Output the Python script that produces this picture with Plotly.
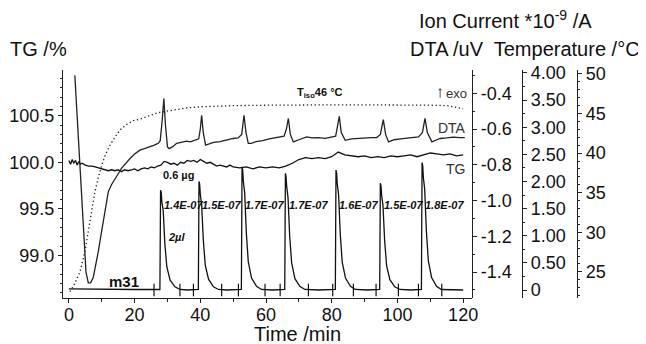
import plotly.graph_objects as go

# ---------------- data ----------------
tg_t = [0, 0.5, 1, 1.5, 2, 2.5, 3, 3.5, 4, 5, 6, 7, 8, 9, 10, 11, 12, 13, 14, 15,
        16, 17, 18, 19, 20, 21, 22, 23, 24, 25, 26, 27, 28, 29, 30, 31, 32, 33, 34, 35,
        36, 37, 38, 39, 40, 41, 42, 43, 44, 45, 46, 47, 48, 49, 50, 52, 54, 56, 58, 60,
        62, 64, 66, 68, 70, 72, 74, 76, 78, 80, 82, 84, 86, 88, 90, 92, 94, 96, 98, 100,
        102, 104, 106, 108, 110, 112, 114, 116, 118, 120]
tg_v = [100.02, 99.98, 100.03, 99.99, 100.02, 99.97, 100.01, 99.98, 99.99, 99.97,
        99.96, 99.96, 99.95, 99.94, 99.93, 99.92, 99.91, 99.92, 99.91, 99.92,
        99.90, 99.92, 99.91, 99.92, 99.93, 99.91, 99.93, 99.94, 99.93, 99.95,
        99.94, 99.96, 99.97, 100.01, 100.00, 99.98, 99.99, 99.97, 100.00, 99.99,
        100.02, 100.01, 100.02, 100.00, 100.03, 100.01, 99.99, 100.00, 99.98, 99.96,
        99.97, 99.96, 99.95, 99.97, 99.95, 99.94, 99.95, 99.93, 99.95, 99.94,
        99.95, 99.94, 99.96, 99.99, 100.03, 100.05, 100.04, 100.05, 100.04, 100.06,
        100.11, 100.08, 100.07, 100.06, 100.07, 100.05, 100.06, 100.05, 100.07, 100.06,
        100.07, 100.08, 100.06, 100.08, 100.10, 100.09, 100.08, 100.09, 100.07, 100.08]

dta_t = [1.8, 2.6, 3.35, 4.4, 5.2, 5.9, 6.6, 7.4, 8.2, 8.9, 9.7, 10.5, 11.2, 12.0, 13.0,
         14.0, 15.0, 16.0, 17.3, 18.6, 20.0, 21.6, 23.0, 24.7, 26.0, 27.2, 27.8, 28.4,
         28.9, 29.4, 30.0, 30.5, 31.5, 32.8, 34.0, 35.8, 37.0, 38.5, 39.5, 40.0, 40.4,
         40.9, 41.6, 42.5, 44, 46, 48, 50, 51.5, 52.6, 53.3, 53.9, 54.6, 55.5, 57, 59,
         61, 63, 64.3, 65.5, 66.2, 66.8, 67.4, 68.3, 70, 72.4, 74, 76, 78, 80, 81.2,
         81.8, 82.3, 82.9, 84.1, 86, 88, 90, 92, 93.7, 94.8, 95.7, 96.4, 97.3, 99, 101,
         103, 105, 106.4, 107.6, 108.4, 109.1, 110.5, 112, 113, 115, 117, 119, 120.5]
dta_v = [-0.30, -0.55, -0.80, -1.17, -1.40, -1.46, -1.46, -1.43, -1.36, -1.29, -1.20,
         -1.12, -1.03, -0.95, -0.91, -0.877, -0.85, -0.82, -0.79, -0.765, -0.74, -0.718,
         -0.71, -0.70, -0.69, -0.68, -0.665, -0.55, -0.43, -0.58, -0.70, -0.71, -0.70,
         -0.68, -0.675, -0.668, -0.672, -0.66, -0.655, -0.60, -0.523, -0.62, -0.69,
         -0.685, -0.675, -0.67, -0.66, -0.653, -0.65, -0.63, -0.523, -0.62, -0.68, -0.68,
         -0.67, -0.665, -0.655, -0.65, -0.644, -0.64, -0.60, -0.541, -0.63, -0.672, -0.66,
         -0.644, -0.65, -0.648, -0.652, -0.646, -0.64, -0.58, -0.529, -0.62, -0.663,
         -0.655, -0.652, -0.65, -0.648, -0.648, -0.63, -0.547, -0.63, -0.672, -0.66,
         -0.655, -0.65, -0.648, -0.644, -0.62, -0.541, -0.62, -0.672, -0.66, -0.653,
         -0.65, -0.645, -0.648, -0.648]

temp_t = [0.3, 1.5, 2.5, 3.35, 4.1, 4.9, 5.6, 6.4, 7.1, 7.9, 9.0, 10.0, 11.2, 12.5, 14.0,
          15.5, 17.5, 19.6, 21.6, 24.7, 27, 29.8, 33, 35.8, 40, 45, 50, 60, 70, 80, 90,
          100, 110, 115, 118, 120]
temp_v = [22.5, 23.3, 24.2, 25.0, 26.2, 27.6, 29.4, 31.4, 33.3, 35.1, 37.0, 38.5, 39.9,
          41.0, 42.0, 42.9, 43.6, 44.1, 44.3, 44.8, 45.1, 45.3, 45.55, 45.7, 45.85,
          45.95, 46.0, 46.05, 46.1, 46.1, 46.1, 46.1, 46.05, 46.0, 45.8, 45.6]

ion_t = [0, 10, 20,
         27.7, 27.9, 28.1, 28.3, 28.7, 29.2, 29.8, 30.8, 32.3, 33.8, 36,
         39.4, 39.6, 39.8, 40.0, 40.4, 40.9, 41.5, 42.5, 44.0, 45.5, 48,
         52.5, 52.7, 52.9, 53.1, 53.5, 54.0, 54.6, 55.6, 57.1, 58.6, 62,
         65.7, 65.9, 66.1, 66.3, 66.7, 67.2, 67.8, 68.8, 70.3, 71.8, 76,
         81.1, 81.3, 81.5, 81.7, 82.1, 82.6, 83.2, 84.2, 85.7, 87.2, 91,
         94.6, 94.8, 95.0, 95.2, 95.6, 96.1, 96.7, 97.7, 99.2, 100.7, 104,
         107.3, 107.5, 107.7, 107.9, 108.3, 108.8, 109.4, 110.4, 111.9, 113.4, 117, 120]
ion_v = [0.02, 0.01, 0.01,
         0.01, 1.84, 1.80, 1.62, 1.47, 0.86, 0.43, 0.18, 0.06, 0.01, 0.0,
         0.01, 2.00, 1.95, 1.76, 1.58, 0.93, 0.46, 0.20, 0.06, 0.01, 0.0,
         0.01, 2.27, 2.21, 2.00, 1.80, 1.06, 0.52, 0.22, 0.07, 0.01, 0.0,
         0.01, 2.15, 2.09, 1.90, 1.70, 1.00, 0.50, 0.21, 0.07, 0.01, 0.0,
         0.01, 2.21, 2.15, 1.95, 1.75, 1.03, 0.51, 0.22, 0.07, 0.01, 0.0,
         0.01, 1.97, 1.92, 1.74, 1.56, 0.92, 0.45, 0.19, 0.06, 0.01, 0.0,
         0.01, 2.35, 2.29, 2.07, 1.86, 1.10, 0.54, 0.23, 0.07, 0.01, 0.0, 0.0]

# integration limits marked on the ion-current baseline
mark_t = [25.9, 33.8, 37.9, 46.5, 51.6, 59.7, 64.3, 72.9, 80.3, 86.6, 93.5, 100.3, 106.4, 113.5]
mark_v = [0.0] * len(mark_t)

# peak areas and their positions
peak_t = [27.9, 39.6, 52.7, 65.9, 81.3, 94.8, 107.5]
peak_labels = ["1.4E-07", "1.5E-07", "1.7E-07", "1.7E-07", "1.6E-07", "1.5E-07", "1.8E-07"]

x_ticks = [0, 20, 40, 60, 80, 100, 120]
tg_ticks = [99.0, 99.5, 100.0, 100.5]
dta_ticks = [-0.4, -0.6, -0.8, -1.0, -1.2, -1.4]
dta_labels = ["-0.4", "-0.6", "-0.8", "-1.0", "-1.2", "-1.4"]
ion_ticks = [0, 0.5, 1.0, 1.5, 2.0, 2.5, 3.0, 3.5, 4.0]
ion_labels = ["0", "0.50", "1.00", "1.50", "2.00", "2.50", "3.00", "3.50", "4.00"]
temp_ticks = [25, 30, 35, 40, 45, 50]

# ---------------- figure ----------------
FONT = "Liberation Sans, Arial, sans-serif"
OFF = 8                       # page body margin: figure is drawn at (8, 8) in the window
W, H = 646 - OFF, 344 - OFF
# plot area in window pixels: x 63..577 (temperature axis), y 70..298
ML = 63 - OFF
MT = 70 - OFF
MR = W - (577 - OFF)
MB = H - (298 - OFF)
PW = W - ML - MR
PH = H - MT - MB
XDOM = (472 - 63) / PW
ION_POS = (522 - 63) / PW


def px(xp):
    return (xp - 63) / PW


def py(yp):
    return 1 - (yp - 70) / PH


fig = go.Figure()
fig.add_trace(go.Scatter(x=temp_t, y=temp_v, yaxis="y4", mode="lines",
                         line=dict(color="#222", width=1.3, dash="1.3px,2.6px"),
                         showlegend=False))
fig.add_trace(go.Scatter(x=tg_t, y=tg_v, yaxis="y", mode="lines",
                         line=dict(color="#111", width=1.3), showlegend=False))
fig.add_trace(go.Scatter(x=dta_t, y=dta_v, yaxis="y2", mode="lines",
                         line=dict(color="#222", width=1.3), showlegend=False))
fig.add_trace(go.Scatter(x=ion_t, y=ion_v, yaxis="y3", mode="lines",
                         line=dict(color="#111", width=1.3), showlegend=False))
fig.add_trace(go.Scatter(x=mark_t, y=mark_v, yaxis="y3", mode="markers",
                         marker=dict(symbol="line-ns-open", size=9, color="#111",
                                     line=dict(color="#111", width=1.2)),
                         showlegend=False))

axis_common = dict(showgrid=False, zeroline=False, showline=True, linecolor="#222",
                   linewidth=1.2, ticks="outside", tickcolor="#222", ticklen=4,
                   automargin=False,
                   tickfont=dict(family=FONT, size=18, color="#111"))

fig.update_layout(
    width=W, height=H,
    margin=dict(l=ML, r=MR, t=MT, b=MB, autoexpand=False),
    paper_bgcolor="white", plot_bgcolor="white",
    font=dict(family=FONT, color="#111"),
    xaxis=dict(domain=[0, XDOM], range=[-1.8, 122.7], tickvals=x_ticks,
               ticklabelstandoff=-4,
               minor=dict(dtick=10, tick0=0, ticklen=3, ticks="outside", tickcolor="#222"),
               anchor="y", **axis_common),
    yaxis=dict(range=[98.545, 100.99], tickvals=tg_ticks, tickformat=".1f",
               minor=dict(dtick=0.1, tick0=99, ticklen=2, ticks="outside", tickcolor="#222"),
               side="left", **axis_common),
    yaxis2=dict(range=[-1.545, -0.27], tickvals=dta_ticks, ticktext=dta_labels,
                minor=dict(dtick=0.1, tick0=-1.4, ticklen=2, ticks="outside", tickcolor="#222"),
                overlaying="y", anchor="free", position=XDOM, side="right", **axis_common),
    yaxis3=dict(range=[-0.147, 4.055], tickvals=ion_ticks, ticktext=ion_labels,
                minor=dict(dtick=0.25, tick0=0, ticklen=2, ticks="outside", tickcolor="#222"),
                overlaying="y", anchor="free", position=ION_POS, side="right", **axis_common),
    yaxis4=dict(range=[21.7, 50.5], tickvals=temp_ticks,
                minor=dict(dtick=1, tick0=25, ticklen=2, ticks="outside", tickcolor="#222"),
                overlaying="y", anchor="free", position=1.0, side="right", **axis_common),
)

ann = []
# axis titles
ann.append(dict(text="TG /%", x=px(38), y=py(49), xref="paper", yref="paper",
                xanchor="center", yanchor="middle", showarrow=False,
                font=dict(family=FONT, size=20, color="#111")))
ann.append(dict(text="Ion Current *10<sup>-9</sup> /A", x=px(505), y=py(19),
                xref="paper", yref="paper", xanchor="center", yanchor="middle",
                showarrow=False, font=dict(family=FONT, size=20, color="#111")))
ann.append(dict(text="DTA /uV  Temperature /°C", x=px(642), y=py(49),
                xref="paper", yref="paper", xanchor="right", yanchor="middle",
                showarrow=False, font=dict(family=FONT, size=20, color="#111")))
ann.append(dict(text="Time /min", x=px(297), y=py(334), xref="paper", yref="paper",
                xanchor="center", yanchor="middle", showarrow=False,
                font=dict(family=FONT, size=20, color="#111")))

# peak area labels
for t, lab in zip(peak_t, peak_labels):
    ann.append(dict(text="<b><i>" + lab + "</i></b>", x=t + 0.4, y=1.57, xref="x", yref="y3",
                    xanchor="left", yanchor="middle", showarrow=False,
                    font=dict(family=FONT, size=11, color="#111")))

ann.append(dict(text="<b><i>2µl</i></b>", x=32.8, y=0.98, xref="x", yref="y3",
                xanchor="center", yanchor="middle", showarrow=False,
                font=dict(family=FONT, size=11, color="#111")))
ann.append(dict(text="<b>0.6 µg</b>", x=33.5, y=99.86, xref="x", yref="y",
                xanchor="center", yanchor="middle", showarrow=False,
                font=dict(family=FONT, size=11, color="#111")))
ann.append(dict(text="<b>m31</b>", x=16.8, y=0.15, xref="x", yref="y3",
                xanchor="center", yanchor="middle", showarrow=False,
                font=dict(family=FONT, size=15, color="#111")))
ann.append(dict(text="<b>T<sub>iso</sub>46 °C</b>", x=76.5, y=47.6, xref="x", yref="y4",
                xanchor="center", yanchor="middle", showarrow=False,
                font=dict(family=FONT, size=11, color="#111")))
# exo arrow (thin upward arrow) and its label
ann.append(dict(text="", x=113.0, y=48.2, xref="x", yref="y4", ax=0, ay=11,
                showarrow=True, arrowhead=1, arrowsize=0.7, arrowwidth=1,
                arrowcolor="#555"))
ann.append(dict(text="exo", x=117.9, y=47.5, xref="x", yref="y4",
                xanchor="center", yanchor="middle", showarrow=False,
                font=dict(family=FONT, size=13, color="#333")))
ann.append(dict(text="DTA", x=116.7, y=-0.596, xref="x", yref="y2",
                xanchor="center", yanchor="middle", showarrow=False,
                font=dict(family=FONT, size=14, color="#333")))
ann.append(dict(text="TG", x=117.6, y=99.925, xref="x", yref="y",
                xanchor="center", yanchor="middle", showarrow=False,
                font=dict(family=FONT, size=14, color="#333")))

fig.update_layout(annotations=ann)
fig.write_html("out.html")
